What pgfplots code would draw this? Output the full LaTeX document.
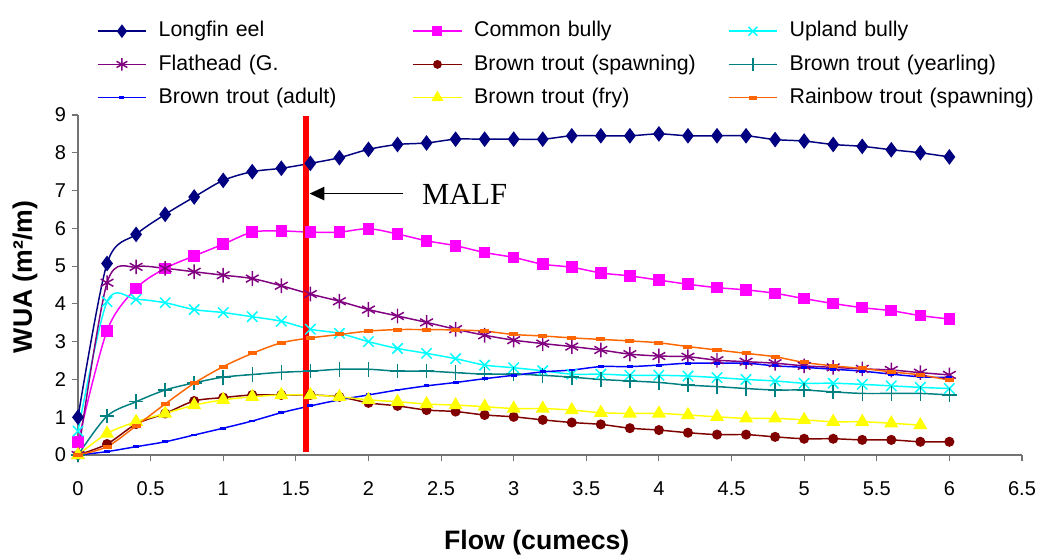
\documentclass[border=0pt]{standalone}
\usepackage{pgfplots}
\pgfplotsset{compat=1.18}
\usepackage{pgfplotstable}
\usepackage{fontspec}
\setmainfont{Liberation Sans}
\newfontfamily\timesfont{Liberation Serif}
\usetikzlibrary{arrows.meta}

\definecolor{cEel}{HTML}{000080}
\definecolor{cCb}{HTML}{FF00FF}
\definecolor{cUb}{HTML}{00FFFF}
\definecolor{cFh}{HTML}{800080}
\definecolor{cBts}{HTML}{800000}
\definecolor{cBty}{HTML}{008080}
\definecolor{cBta}{HTML}{0000FF}
\definecolor{cBtf}{HTML}{FFFF00}
\definecolor{cRts}{HTML}{FF6600}

% WUA (m2/m) against flow (cumecs)
\pgfplotstableread{
x   eel  cb   ub   fh   bts  bty  bta  btf  rts
0.0 1.00 0.34 0.63 0.00 0.00 0.00 0.00 0.00 0.00
0.2 5.07 3.29 4.06 4.56 0.29 1.03 0.09 0.57 0.22
0.4 5.84 4.41 4.12 4.98 0.82 1.41 0.22 0.88 0.77
0.6 6.37 4.94 4.03 4.94 1.10 1.72 0.35 1.10 1.35
0.8 6.83 5.27 3.85 4.85 1.43 1.91 0.53 1.32 1.90
1.0 7.27 5.58 3.77 4.76 1.52 2.06 0.71 1.46 2.34
1.2 7.50 5.90 3.66 4.67 1.59 2.13 0.90 1.54 2.69
1.4 7.59 5.93 3.54 4.48 1.59 2.19 1.12 1.59 2.97
1.6 7.72 5.90 3.33 4.26 1.59 2.22 1.30 1.59 3.10
1.8 7.87 5.90 3.22 4.07 1.54 2.27 1.46 1.54 3.19
2.0 8.09 5.99 3.00 3.85 1.38 2.27 1.59 1.46 3.28
2.2 8.22 5.85 2.82 3.68 1.30 2.22 1.72 1.41 3.32
2.4 8.26 5.67 2.69 3.51 1.19 2.22 1.83 1.35 3.32
2.6 8.36 5.54 2.55 3.33 1.15 2.18 1.92 1.32 3.31
2.8 8.36 5.36 2.38 3.17 1.06 2.14 2.02 1.28 3.28
3.0 8.36 5.23 2.31 3.04 1.01 2.14 2.11 1.23 3.19
3.2 8.36 5.05 2.23 2.95 0.93 2.11 2.20 1.23 3.15
3.4 8.45 4.97 2.14 2.87 0.86 2.06 2.25 1.19 3.10
3.6 8.45 4.82 2.14 2.78 0.81 2.00 2.34 1.12 3.06
3.8 8.45 4.74 2.11 2.67 0.71 1.96 2.34 1.10 3.02
4.0 8.50 4.63 2.11 2.62 0.66 1.92 2.38 1.10 2.97
4.2 8.45 4.52 2.09 2.60 0.59 1.85 2.43 1.06 2.87
4.4 8.45 4.43 2.05 2.51 0.54 1.81 2.43 1.01 2.78
4.6 8.45 4.37 2.00 2.47 0.54 1.76 2.43 0.97 2.69
4.8 8.35 4.28 1.96 2.43 0.48 1.72 2.36 0.97 2.60
5.0 8.31 4.14 1.90 2.36 0.43 1.72 2.32 0.93 2.45
5.2 8.22 4.01 1.90 2.32 0.43 1.67 2.27 0.88 2.36
5.4 8.17 3.90 1.87 2.28 0.40 1.63 2.22 0.88 2.29
5.6 8.08 3.82 1.83 2.25 0.40 1.63 2.14 0.84 2.20
5.8 8.00 3.69 1.79 2.18 0.35 1.63 2.07 0.79 2.12
6.0 7.89 3.60 1.76 2.12 0.35 1.59 2.05 nan  1.98
}\wua

\begin{document}
\begin{tikzpicture}
\useasboundingbox (-58.5pt,-74.25pt) rectangle (721.5pt,341.25pt);
\begin{axis}[
  at={(0pt,0pt)}, anchor=south west,
  scale only axis, width=708pt, height=255pt,
  xmin=0, xmax=6.5, ymin=0, ymax=9,
  xtick={0,0.5,1,1.5,2,2.5,3,3.5,4,4.5,5,5.5,6,6.5},
  ytick={0,1,2,3,4,5,6,7,8,9},
  axis x line*=bottom, axis y line*=left,
  axis line style={draw=black!55, line width=0.8pt},
  tick style={draw=black!55, line width=0.8pt},
  tick align=outside, major tick length=4.5pt,
  /pgf/number format/assume math mode=true,
  ticklabel style={font=\fontsize{15}{17}\selectfont},
  xticklabel style={yshift=-12pt},
  yticklabel style={xshift=-1pt},
  xlabel={Flow (cumecs)},
  ylabel={WUA (m²/m)},
  xlabel style={font=\bfseries\fontsize{20}{24}\selectfont,
    at={([yshift=-65.5pt]rel axis cs:0.486,0)}, anchor=center},
  ylabel style={font=\bfseries\fontsize{20}{24}\selectfont,
    at={([xshift=-39.75pt]rel axis cs:0,0.524)}, anchor=center},
  clip=false,
  legend columns=3,
  legend cell align=left,
  legend image code/.code={\draw[mark repeat=2,mark phase=2,#1,
      every mark/.append style={scale=0.85}]
    plot coordinates {(0pt,0pt) (18pt,0pt) (36pt,0pt)};},
  legend style={at={(rel axis cs:0.0201,1.2757)}, anchor=north west,
    draw=none, fill=none, inner sep=0pt, row sep=10.4pt,
    font=\fontsize{16}{19}\selectfont,
    nodes={inner sep=0pt, text width=190.5pt, text height=11.5pt, text depth=3pt},
    /tikz/every odd column/.append style={column sep=9pt}},
  every axis plot/.append style={line width=1.1pt, smooth, tension=0.5},
]
\addplot[color=cEel, mark=diamond*, mark size=5pt, mark options={fill=cEel}]
  table[x=x,y=eel]{\wua};
\addlegendentry{Longfin eel}
\addplot[color=cCb, mark=square*, mark size=3.8pt, mark options={fill=cCb}]
  table[x=x,y=cb]{\wua};
\addlegendentry{Common bully}
\addplot[color=cUb, mark=x, mark size=5.5pt]
  table[x=x,y=ub]{\wua};
\addlegendentry{Upland bully}
\addplot[color=cFh, mark=asterisk, mark size=5.5pt]
  table[x=x,y=fh]{\wua};
\addlegendentry{Flathead (G.}
\addplot[color=cBts, mark=*, mark size=3.2pt, mark options={fill=cBts}]
  table[x=x,y=bts]{\wua};
\addlegendentry{Brown trout (spawning)}
\addplot[color=cBty, mark=+, mark size=5.5pt]
  table[x=x,y=bty]{\wua};
\addlegendentry{Brown trout (yearling)}
\addplot[color=cBta, mark=-, mark size=2.2pt, mark options={line width=2.2pt}]
  table[x=x,y=bta]{\wua};
\addlegendentry{Brown trout (adult)}
\addplot[color=cBtf, mark=triangle*, mark size=5pt, mark options={fill=cBtf}]
  table[x=x,y=btf]{\wua};
\addlegendentry{Brown trout (fry)}
\addplot[color=cRts, mark=-, mark size=3.4pt, mark options={line width=3pt}]
  table[x=x,y=rts]{\wua};
\addlegendentry{Rainbow trout (spawning)}
% MALF marker line
\addplot[color=red, line width=4.8pt, no marks, forget plot, sharp plot]
  coordinates {(1.57,0.09) (1.57,8.98)};
\draw[line width=1.1pt, -{Triangle[length=11pt,width=10pt]}]
  (axis cs:2.24,6.92) -- (axis cs:1.595,6.92);
\node[font=\timesfont\fontsize{23}{26}\selectfont, anchor=west, inner sep=0pt]
  at (axis cs:2.367,6.91) {MALF};
\end{axis}
\end{tikzpicture}
\end{document}
